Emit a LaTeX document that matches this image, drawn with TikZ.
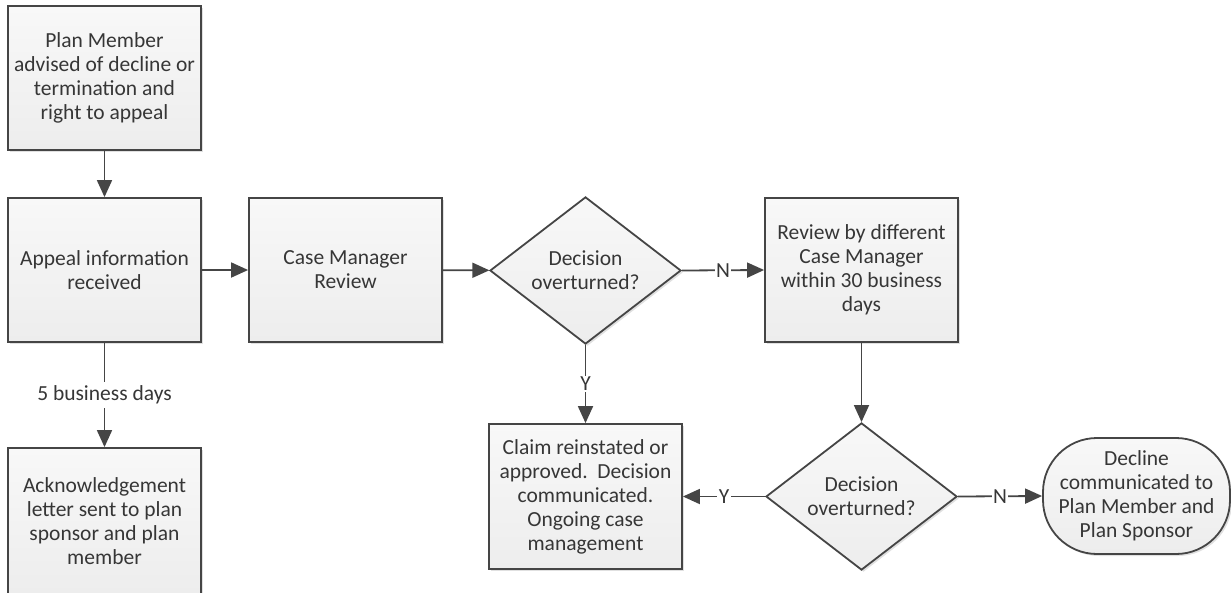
\documentclass[tikz,border=0pt]{standalone}
\usepackage{fontspec}
\setmainfont{Carlito}
\usetikzlibrary{shapes.geometric,arrows.meta,shadows}
\definecolor{edgegray}{HTML}{454545}
\definecolor{textgray}{HTML}{363636}
\definecolor{filltop}{HTML}{F8F8F8}
\definecolor{fillbot}{HTML}{EDEDED}
\tikzset{
  base/.style={draw=edgegray, line width=1.8pt, top color=filltop, bottom color=fillbot,
    text=textgray, align=center, inner sep=2pt,
    font=\fontsize{21.5}{24}\selectfont,
    drop shadow={shadow xshift=2pt, shadow yshift=-2pt, opacity=0.12, fill=black}},
  procbox/.style={base, rectangle, minimum width=193pt, minimum height=144pt},
  decision/.style={base, diamond, minimum width=191pt, minimum height=143pt, inner sep=0pt},
  terminal/.style={base, rectangle, rounded corners=54pt, minimum width=187pt, minimum height=116pt},
  arr/.style={draw=edgegray, line width=1.8pt, -{Triangle[length=17pt,width=15pt]}},
  lbl/.style={fill=white, text=textgray, inner sep=1.5pt, font=\fontsize{21.5}{24}\selectfont},
}
\begin{document}
\begin{tikzpicture}[x=1pt, y=-1pt]
\useasboundingbox (0,0) rectangle (1231,592);

\node[procbox] (advised) at (104.5,78) {Plan Member\\advised of decline or\\termination and\\right to appeal};
\node[procbox] (received) at (104.5,270) {Appeal information\\received};
\node[procbox] (review) at (345.5,270) {Case Manager\\Review};
\node[decision] (dec1) at (585.5,270.5) {Decision\\overturned?};
\node[procbox] (review2) at (861.5,270) {Review by different\\Case Manager\\within 30 business\\days};
\node[procbox, minimum height=146pt] (ack) at (104.5,521) {Acknowledgement\\letter sent to plan\\sponsor and plan\\member};
\node[procbox, minimum height=145pt] (claim) at (585.5,496.5) {Claim reinstated or\\approved.\ \ Decision\\communicated.\\Ongoing case\\management};
\node[decision] (dec2) at (861.5,496.5) {Decision\\overturned?};
\node[terminal] (decline) at (1136.5,496) {Decline\\communicated to\\Plan Member and\\Plan Sponsor};

\draw[arr] (advised) -- (received);
\draw[arr] (received) -- (review);
\draw[arr] (review) -- (dec1);
\draw[arr] (dec1.east) -- node[lbl] {N} (review2.west);
\draw[arr] (dec1.south) -- node[lbl] {Y} (claim.north);
\draw[arr] (review2) -- (dec2.north);
\draw[arr] (dec2.west) -- node[lbl] {Y} (claim.east);
\draw[arr] (dec2.east) -- node[lbl] {N} (decline.west);
\draw[arr] (received) -- node[lbl, inner sep=4pt] {5 business days} (ack);
\end{tikzpicture}
\end{document}
